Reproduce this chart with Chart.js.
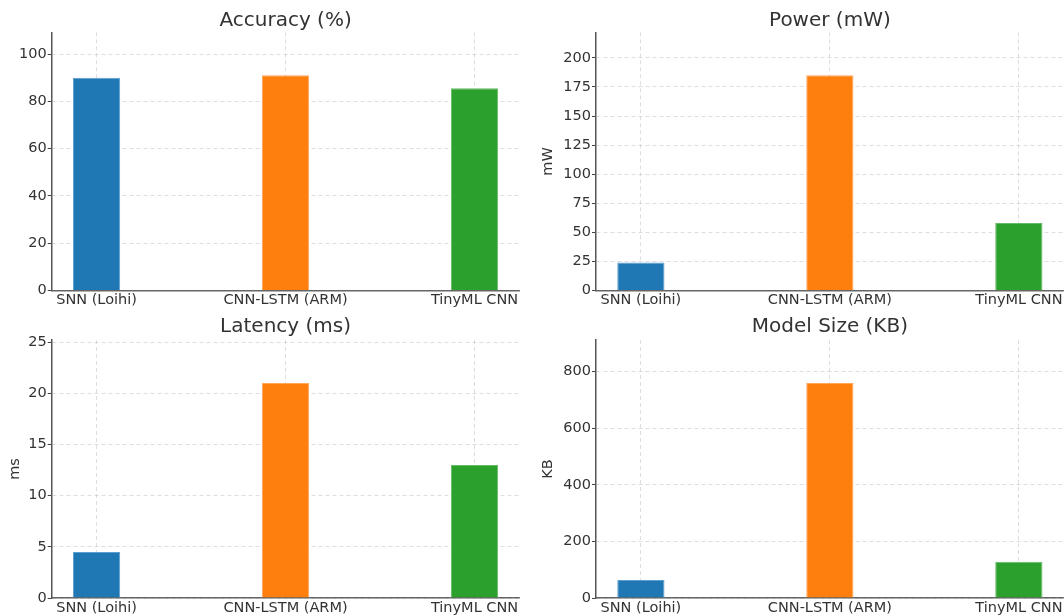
<!DOCTYPE html>
<html>
<head>
<meta charset="utf-8">
<script src="https://cdn.jsdelivr.net/npm/chart.js@4.4.1/dist/chart.umd.min.js"></script>
<style>
  html, body { margin: 0; padding: 0; background: #fff; }
  body { width: 1064px; height: 615px; position: relative; overflow: hidden; }
  canvas { position: absolute; }
</style>
</head>
<body>
<canvas id="accChart" width="532" height="310" style="left:0;top:0"></canvas>
<canvas id="powChart" width="532" height="310" style="left:532px;top:0"></canvas>
<canvas id="latChart" width="532" height="308" style="left:0;top:307px"></canvas>
<canvas id="sizeChart" width="532" height="308" style="left:532px;top:307px"></canvas>
<script>
// -- Data --
const models = ['SNN (Loihi)', 'CNN-LSTM (ARM)', 'TinyML CNN'];
const accuracy = [90, 91, 85.5];   // %
const power = [24, 185, 58];       // mW
const latency = [4.5, 21, 13];     // ms
const modelSize = [64, 760, 128];  // KB

// -- Style --
const FONT = 'DejaVu Sans';
const TEXT = '#333333';
const barColors = ['#1f77b4', '#ff7f0e', '#2ca02c'];
const barEdges = ['#5e9fd1', '#ffa75c', '#64bb64'];
const GRID = 'rgba(185, 185, 185, 0.6)';

function makePanel(id, p) {
    const ctx = document.getElementById(id).getContext('2d');
    return new Chart(ctx, {
        type: 'bar',
        data: {
            datasets: [{
                data: p.values.map((v, i) => ({ x: i, y: v })),
                backgroundColor: barColors,
                borderColor: barEdges,
                borderWidth: 1,
                barPercentage: 0.25,
                categoryPercentage: 1
            }]
        },
        options: {
            responsive: false,
            animation: false,
            layout: { padding: p.padding },
            plugins: {
                legend: { display: false },
                tooltip: { enabled: false },
                title: {
                    display: true,
                    text: p.title,
                    fullSize: false,
                    color: TEXT,
                    font: { family: FONT, size: 20, weight: 'normal' },
                    padding: { top: 0, bottom: p.titleGap }
                }
            },
            scales: {
                x: {
                    type: 'linear',
                    offset: false,
                    min: -0.2375,   // matplotlib margins around 3 bars of width 0.25
                    max: 2.2375,
                    z: 1,
                    afterFit: (s) => { s.height = p.xHeight; },
                    ticks: {
                        stepSize: 1,
                        includeBounds: false,
                        autoSkip: false,
                        maxRotation: 0,
                        padding: 1.5,
                        color: TEXT,
                        font: { family: FONT, size: 14.5 },
                        callback: (v) => models[v] ?? ''
                    },
                    grid: { offset: false, color: GRID, lineWidth: 0.8, drawTicks: false },
                    border: { color: '#666666', width: 1.5, dash: [4, 3] }
                },
                y: {
                    min: 0,
                    max: Math.max(...p.values) * 1.2,
                    z: 1,
                    afterFit: (s) => { s.width = p.yWidth; },
                    ticks: {
                        stepSize: p.step,
                        includeBounds: false,
                        padding: 1,
                        color: TEXT,
                        font: { family: FONT, size: 14.5 }
                    },
                    grid: { color: GRID, lineWidth: 0.8, tickLength: 4, tickColor: '#444444', tickWidth: 1 },
                    border: { color: '#555555', width: 1.5, dash: [4, 3] },
                    title: {
                        display: !!p.yLabel,
                        text: p.yLabel || '',
                        color: TEXT,
                        font: { family: FONT, size: 14.5 },
                        padding: { top: p.yTitlePad, bottom: 0 }
                    }
                }
            }
        }
    });
}

// -- Panels --
makePanel('accChart', {
    title: 'Accuracy (%)', values: accuracy, step: 20, yLabel: '',
    yWidth: 51.7, xHeight: 19.5, titleGap: 0, yTitlePad: 0,
    padding: { top: 8.3, right: 12.6, bottom: 0, left: 0 }
});
makePanel('powChart', {
    title: 'Power (mW)', values: power, step: 25, yLabel: 'mW',
    yWidth: 64, xHeight: 19.5, titleGap: 0, yTitlePad: 8,
    padding: { top: 8.3, right: 0, bottom: 0, left: 0 }
});
makePanel('latChart', {
    title: 'Latency (ms)', values: latency, step: 5, yLabel: 'ms',
    yWidth: 51.7, xHeight: 17, titleGap: 1.5, yTitlePad: 6.8,
    padding: { top: 7.5, right: 12.6, bottom: 0, left: 0 }
});
makePanel('sizeChart', {
    title: 'Model Size (KB)', values: modelSize, step: 200, yLabel: 'KB',
    yWidth: 64, xHeight: 17, titleGap: 1.5, yTitlePad: 8,
    padding: { top: 7.5, right: 0, bottom: 0, left: 0 }
});
</script>
</body>
</html>
